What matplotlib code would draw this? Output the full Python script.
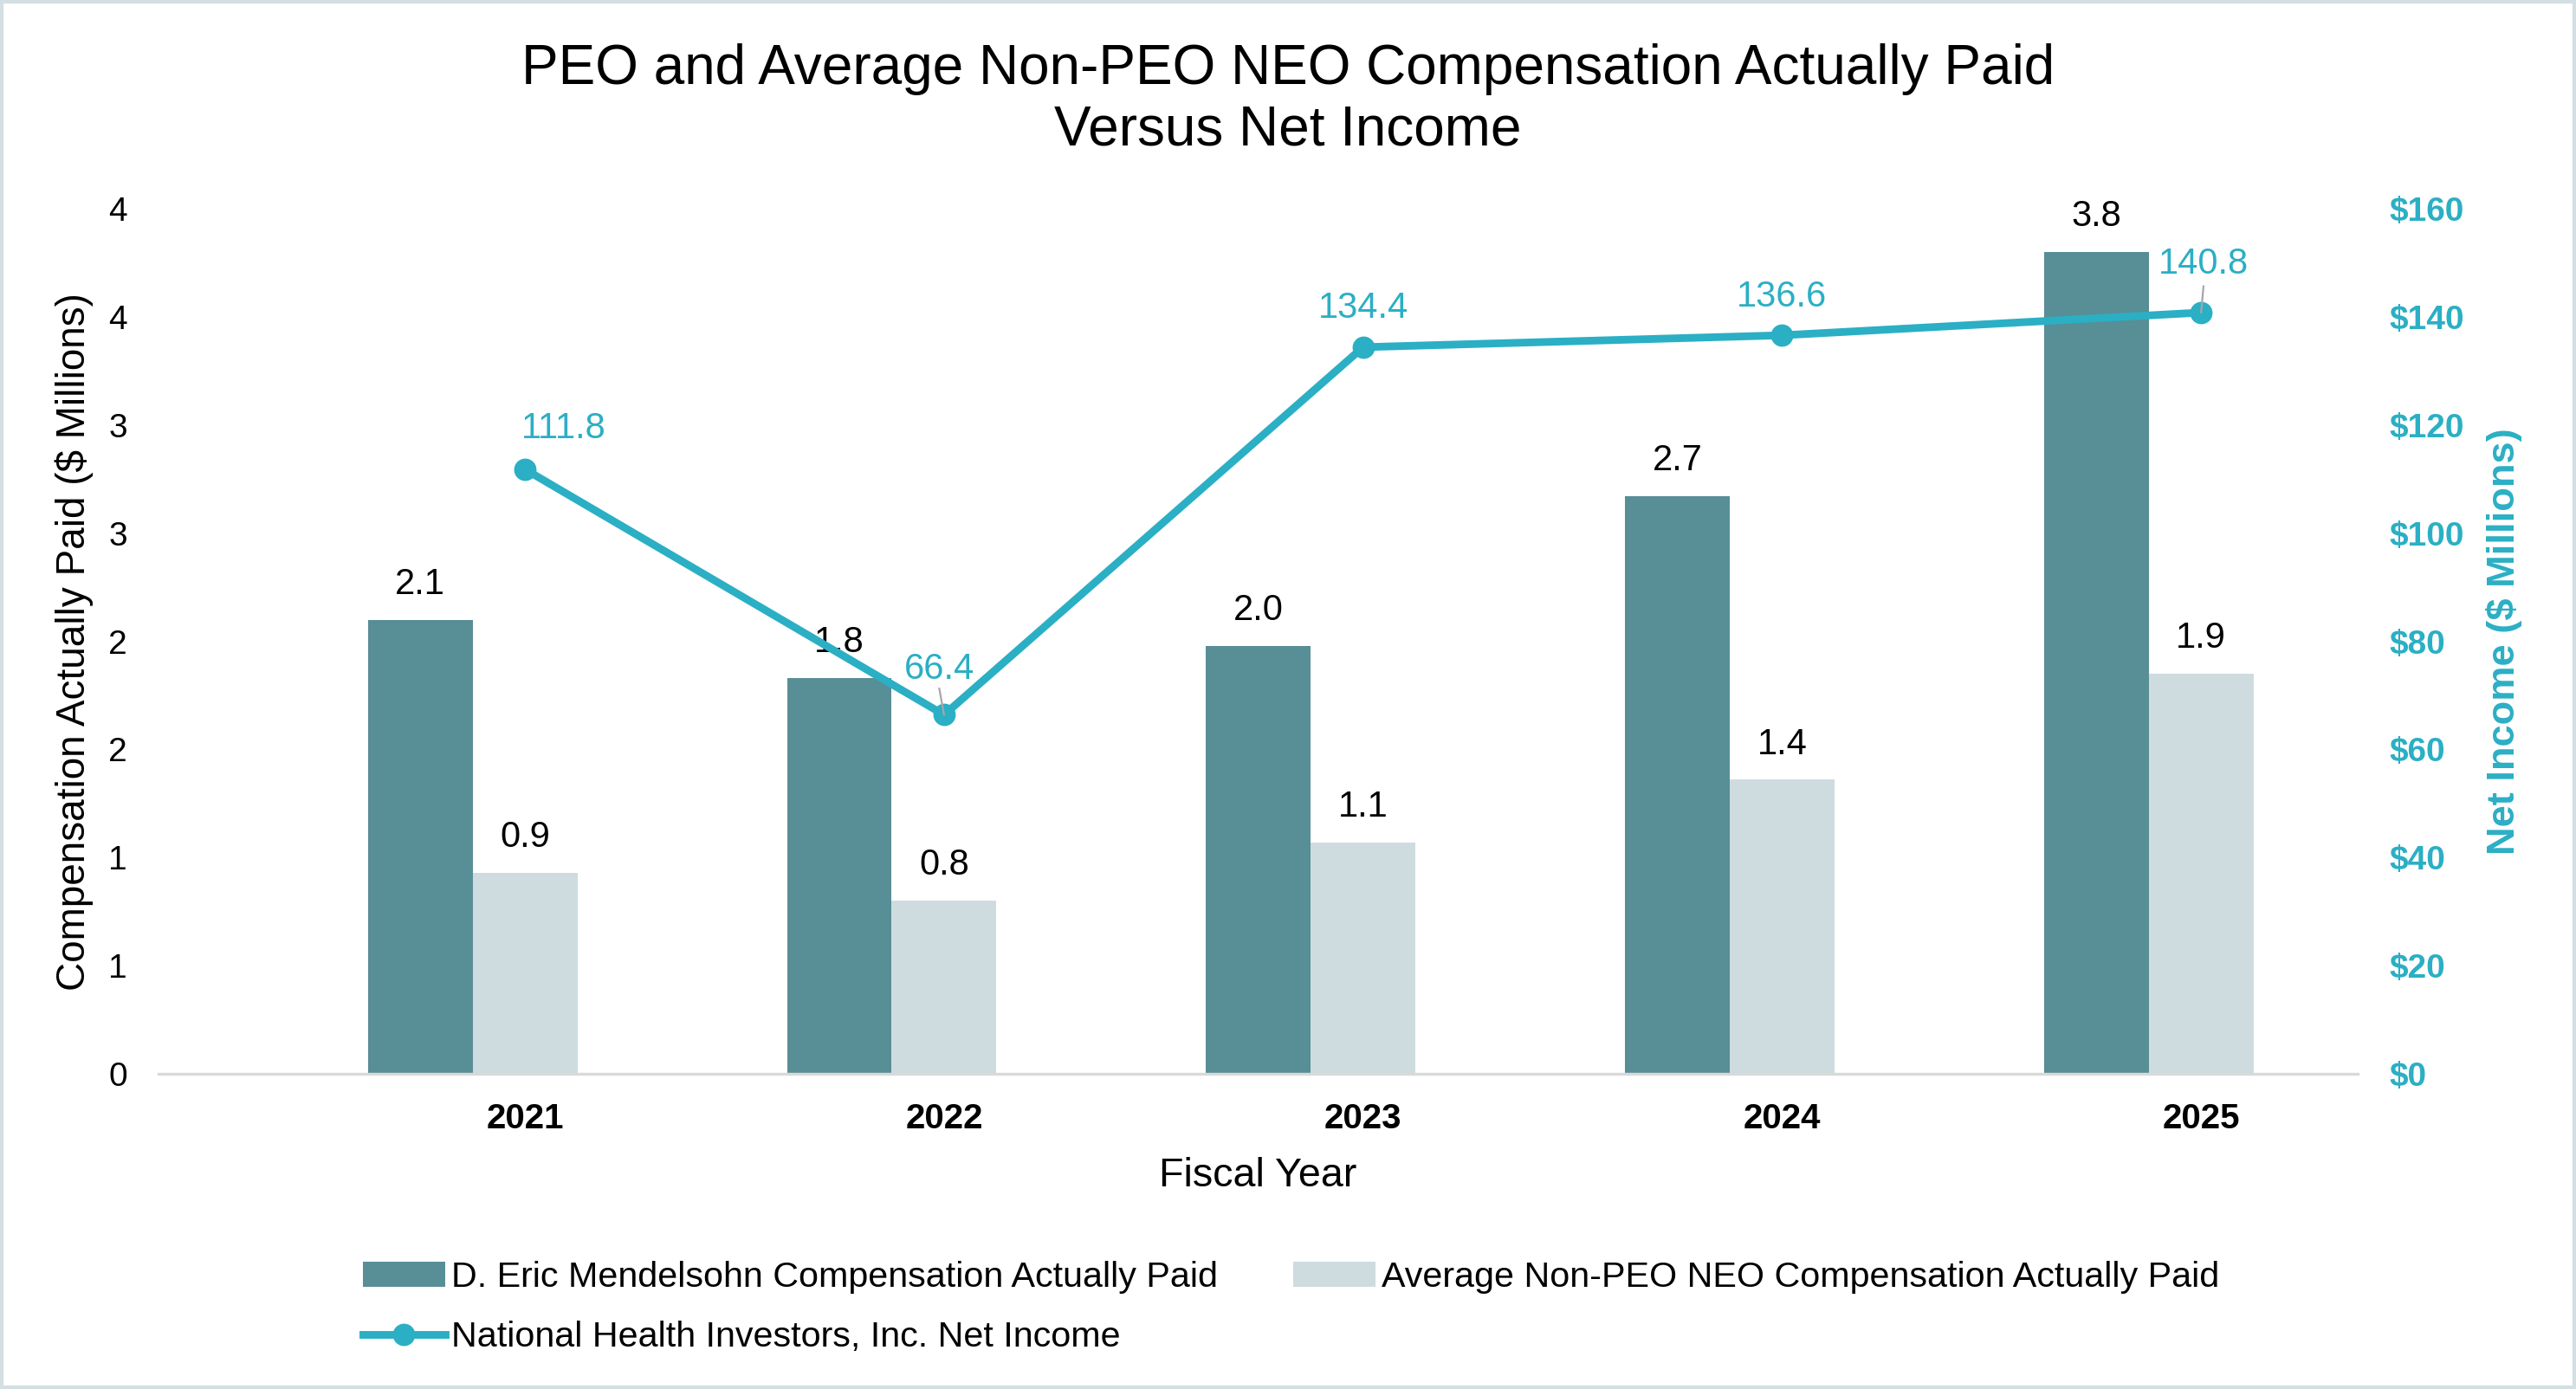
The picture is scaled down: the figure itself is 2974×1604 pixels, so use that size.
import numpy as np
import matplotlib
matplotlib.use("Agg")
import matplotlib.pyplot as plt
from matplotlib.patches import Rectangle
from matplotlib.ticker import FuncFormatter, MultipleLocator

plt.rcParams['font.family'] = ['Liberation Sans', 'DejaVu Sans']

# data
years = ['2021', '2022', '2023', '2024', '2025']
peo_cap = [2.10, 1.83, 1.98, 2.67, 3.80]
neo_cap = [0.93, 0.80, 1.07, 1.36, 1.85]
net_income = [111.8, 66.4, 134.4, 136.6, 140.8]

peo_color = '#588E95'
neo_color = '#CEDCE0'
line_color = '#2BAFC4'

fig = plt.figure(figsize=(14.87, 8.02), dpi=200)
ax = fig.add_axes([0.0615, 0.2269, 0.8538, 0.6228])

x = np.arange(len(years))
w = 0.25
ax.bar(x - w, peo_cap, width=w, color=peo_color, zorder=2,
       label='D. Eric Mendelsohn Compensation Actually Paid')
ax.bar(x, neo_cap, width=w, color=neo_color, zorder=2,
       label='Average Non-PEO NEO Compensation Actually Paid')

for xi, v in zip(x - w, peo_cap):
    ax.annotate(f'{v:.1f}', (xi, v), xytext=(0, 7.5), textcoords='offset points',
                ha='center', va='bottom', fontsize=15, color='black')
for xi, v in zip(x, neo_cap):
    ax.annotate(f'{v:.1f}', (xi, v), xytext=(0, 7.5), textcoords='offset points',
                ha='center', va='bottom', fontsize=15, color='black')

ax.set_xlim(-0.875, 4.374)
ax.set_ylim(0, 4)
ax.yaxis.set_major_locator(MultipleLocator(0.5))
ax.yaxis.set_major_formatter(FuncFormatter(lambda v, p: str(int(np.floor(v + 0.5)))))
ax.set_xticks(x)
ax.set_xticklabels(years, fontweight='bold', fontsize=14.5)
ax.tick_params(axis='x', length=0, pad=12)
ax.tick_params(axis='y', length=0, pad=13, labelsize=14)
for side in ['top', 'left', 'right']:
    ax.spines[side].set_visible(False)
ax.spines['bottom'].set_color('#D9D9D9')
ax.spines['bottom'].set_linewidth(1.2)
ax.set_xlabel('Fiscal Year', fontsize=16.8, labelpad=9)
ax.set_ylabel('Compensation Actually Paid ($ Millions)', fontsize=16.5, labelpad=6)

ax2 = ax.twinx()
ax2.plot(x, net_income, color=line_color, lw=3.2, marker='o', markersize=8.3,
         label='National Health Investors, Inc. Net Income', zorder=3)
ax2.set_ylim(0, 160)
ax2.yaxis.set_major_locator(MultipleLocator(20))
ax2.yaxis.set_major_formatter(FuncFormatter(lambda v, p: f'${v:.0f}'))
ax2.tick_params(axis='y', length=0, pad=13, labelsize=14, labelcolor=line_color)
for t in ax2.get_yticklabels():
    t.set_fontweight('bold')
for side in ['top', 'left', 'right', 'bottom']:
    ax2.spines[side].set_visible(False)
ax2.set_ylabel('Net Income ($ Millions)', fontsize=16.3, fontweight='bold',
               color=line_color, labelpad=9)

label_dx = [16, -2, 0, 0, 1]
label_dy = [17, 19, 16, 16, 20]
for xi, v, dx, dy in zip(x, net_income, label_dx, label_dy):
    ax2.annotate(f'{v:.1f}', (xi, v), xytext=(dx, dy), textcoords='offset points',
                 ha='center', va='center', fontsize=15, color=line_color)
# leader lines for the moved labels
for i in [1, 4]:
    ax2.annotate('', (x[i], net_income[i]), xytext=(-2 if i == 1 else 1, 11),
                 textcoords='offset points',
                 arrowprops=dict(arrowstyle='-', color='#A6A6A6', lw=0.8,
                                 shrinkA=0, shrinkB=0))

fig.text(0.5, 0.9283, 'PEO and Average Non-PEO NEO Compensation Actually Paid\nVersus Net Income',
         ha='center', va='center', fontsize=23, linespacing=1.22)

h1, l1 = ax.get_legend_handles_labels()
h2, l2 = ax2.get_legend_handles_labels()
fig.legend([h1[0], h2[0], h1[1]], [l1[0], l2[0], l1[1]], ncol=2,
           loc='upper left', bbox_to_anchor=(419 / 2974, 1 - 1456 / 1604),
           frameon=False, fontsize=14.85, borderpad=0, borderaxespad=0,
           handlelength=2.3, handletextpad=0.18, columnspacing=2.1,
           labelspacing=0.76)

fig.patches.append(Rectangle((0, 0), 1, 1, transform=fig.transFigure, fill=False,
                             edgecolor='#D3DFE2', lw=3))

fig.savefig('out.png', dpi=200, facecolor='white')
